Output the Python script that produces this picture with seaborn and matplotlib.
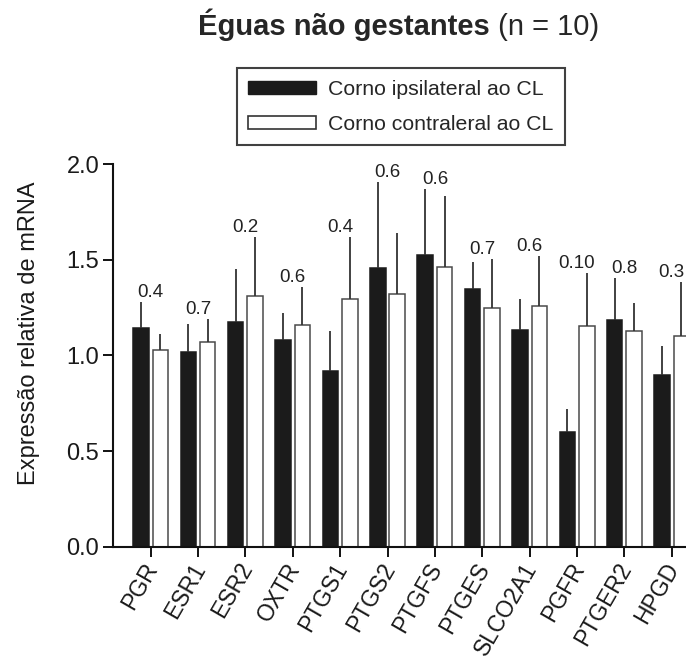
import matplotlib
matplotlib.use("Agg")
import matplotlib.pyplot as plt
from matplotlib.patches import Patch
import seaborn as sns
import pandas as pd

genes = ["PGR", "ESR1", "ESR2", "OXTR", "PTGS1", "PTGS2", "PTGFS",
         "PTGES", "SLCO2A1", "PGFR", "PTGER2", "HPGD"]
groups = ["Corno ipsilateral ao CL", "Corno contraleral ao CL"]

ipsi_mean = [1.145, 1.019, 1.173, 1.082, 0.917, 1.459, 1.525, 1.345, 1.131, 0.600, 1.185, 0.898]
ipsi_sem = [0.136, 0.145, 0.277, 0.141, 0.211, 0.447, 0.343, 0.143, 0.162, 0.120, 0.218, 0.151]
contra_mean = [1.028, 1.072, 1.310, 1.157, 1.297, 1.323, 1.464, 1.248, 1.258, 1.154, 1.129, 1.101]
contra_sem = [0.082, 0.118, 0.307, 0.200, 0.320, 0.315, 0.371, 0.254, 0.262, 0.275, 0.147, 0.284]
p_values = ["0.4", "0.7", "0.2", "0.6", "0.4", "0.6", "0.6", "0.7", "0.6", "0.10", "0.8", "0.3"]

y_ticks = [0.0, 0.5, 1.0, 1.5, 2.0]

sns.set_style("ticks")
plt.rcParams["font.family"] = ["Liberation Sans", "DejaVu Sans"]

df = pd.DataFrame({
    "gene": genes * 2,
    "grupo": [groups[0]] * len(genes) + [groups[1]] * len(genes),
    "valor": ipsi_mean + contra_mean,
})

fig = plt.figure(figsize=(6.86, 6.62), dpi=100)
ax = fig.add_axes([0.165, 0.1742, 0.835, 0.578])

black = "#1b1b1b"
edge_white = "#4a4a4a"
sns.barplot(data=df, x="gene", y="valor", hue="grupo", order=genes,
            hue_order=groups, palette=[black, "white"], width=0.82, gap=0.2,
            errorbar=None, legend=False, ax=ax, linewidth=1.1, edgecolor=black)

# outline the open bars in grey and draw the upper SEM whiskers
sems = [ipsi_sem, contra_sem]
tops = [[0.0] * len(genes) for _ in groups]
for gi, cont in enumerate(ax.containers):
    for i, bar in enumerate(cont.patches):
        if gi == 1:
            bar.set_edgecolor(edge_white)
        xc = bar.get_x() + bar.get_width() / 2
        h = bar.get_height()
        top = h + sems[gi][i]
        tops[gi][i] = top
        ax.vlines(xc, h, top, color="#333333", linewidth=1.3, zorder=1)

for i, p in enumerate(p_values):
    ymax = max(tops[0][i], tops[1][i])
    ax.annotate(p, xy=(i, ymax), xytext=(0, 3.5), textcoords="offset points",
                ha="center", va="baseline", fontsize=13.5, color="#222222",
                family=["Liberation Sans Narrow", "Liberation Sans"],
                annotation_clip=False)

ax.set_xlim(-0.79, 11.30)
ax.set_ylim(0, 2.0)
ax.set_yticks(y_ticks)
ax.set_yticklabels([f"{v:.1f}" for v in y_ticks], fontsize=17, color="#1a1a1a")
ax.set_xticks(range(len(genes)))
ax.set_xticklabels(genes, fontsize=16.5, rotation=60, ha="right",
                   va="center_baseline", rotation_mode="anchor",
                   color="#1a1a1a")
ax.tick_params(axis="both", direction="out", width=1.4, color="#111111")
ax.tick_params(axis="x", length=7, pad=5)
ax.tick_params(axis="y", length=7, pad=3)
ax.set_xlabel("")
ax.set_ylabel("Expressão relativa de mRNA", fontsize=17, color="#1a1a1a")
ax.yaxis.set_label_coords(-0.128, 0.559)
sns.despine(ax=ax)
for s in ("left", "bottom"):
    ax.spines[s].set_linewidth(1.5)
    ax.spines[s].set_color("#111111")

# title: bold part followed by the sample size in regular weight
t1 = fig.text(0.289, 0.947, "Éguas não gestantes", fontsize=21,
              fontweight="bold", ha="left", va="baseline")
renderer = fig.canvas.get_renderer()
bb = t1.get_window_extent(renderer=renderer)
fig.text(bb.x1 / fig.bbox.width, 0.947, " (n = 10)", fontsize=21,
         ha="left", va="baseline")

handles = [Patch(facecolor=black, edgecolor=black),
           Patch(facecolor="white", edgecolor="#333333", linewidth=1.2)]
leg = fig.legend(handles, groups, loc="upper left",
                 bbox_to_anchor=(0.345, 0.897), fontsize=15.3,
                 frameon=True, fancybox=False, handlelength=3.2,
                 handleheight=0.6, handletextpad=0.55, labelspacing=0.75,
                 borderpad=0.55, borderaxespad=0)
leg.get_frame().set_edgecolor("#111111")
leg.get_frame().set_linewidth(1.5)

fig.savefig("out.png", dpi=100, facecolor="white")
